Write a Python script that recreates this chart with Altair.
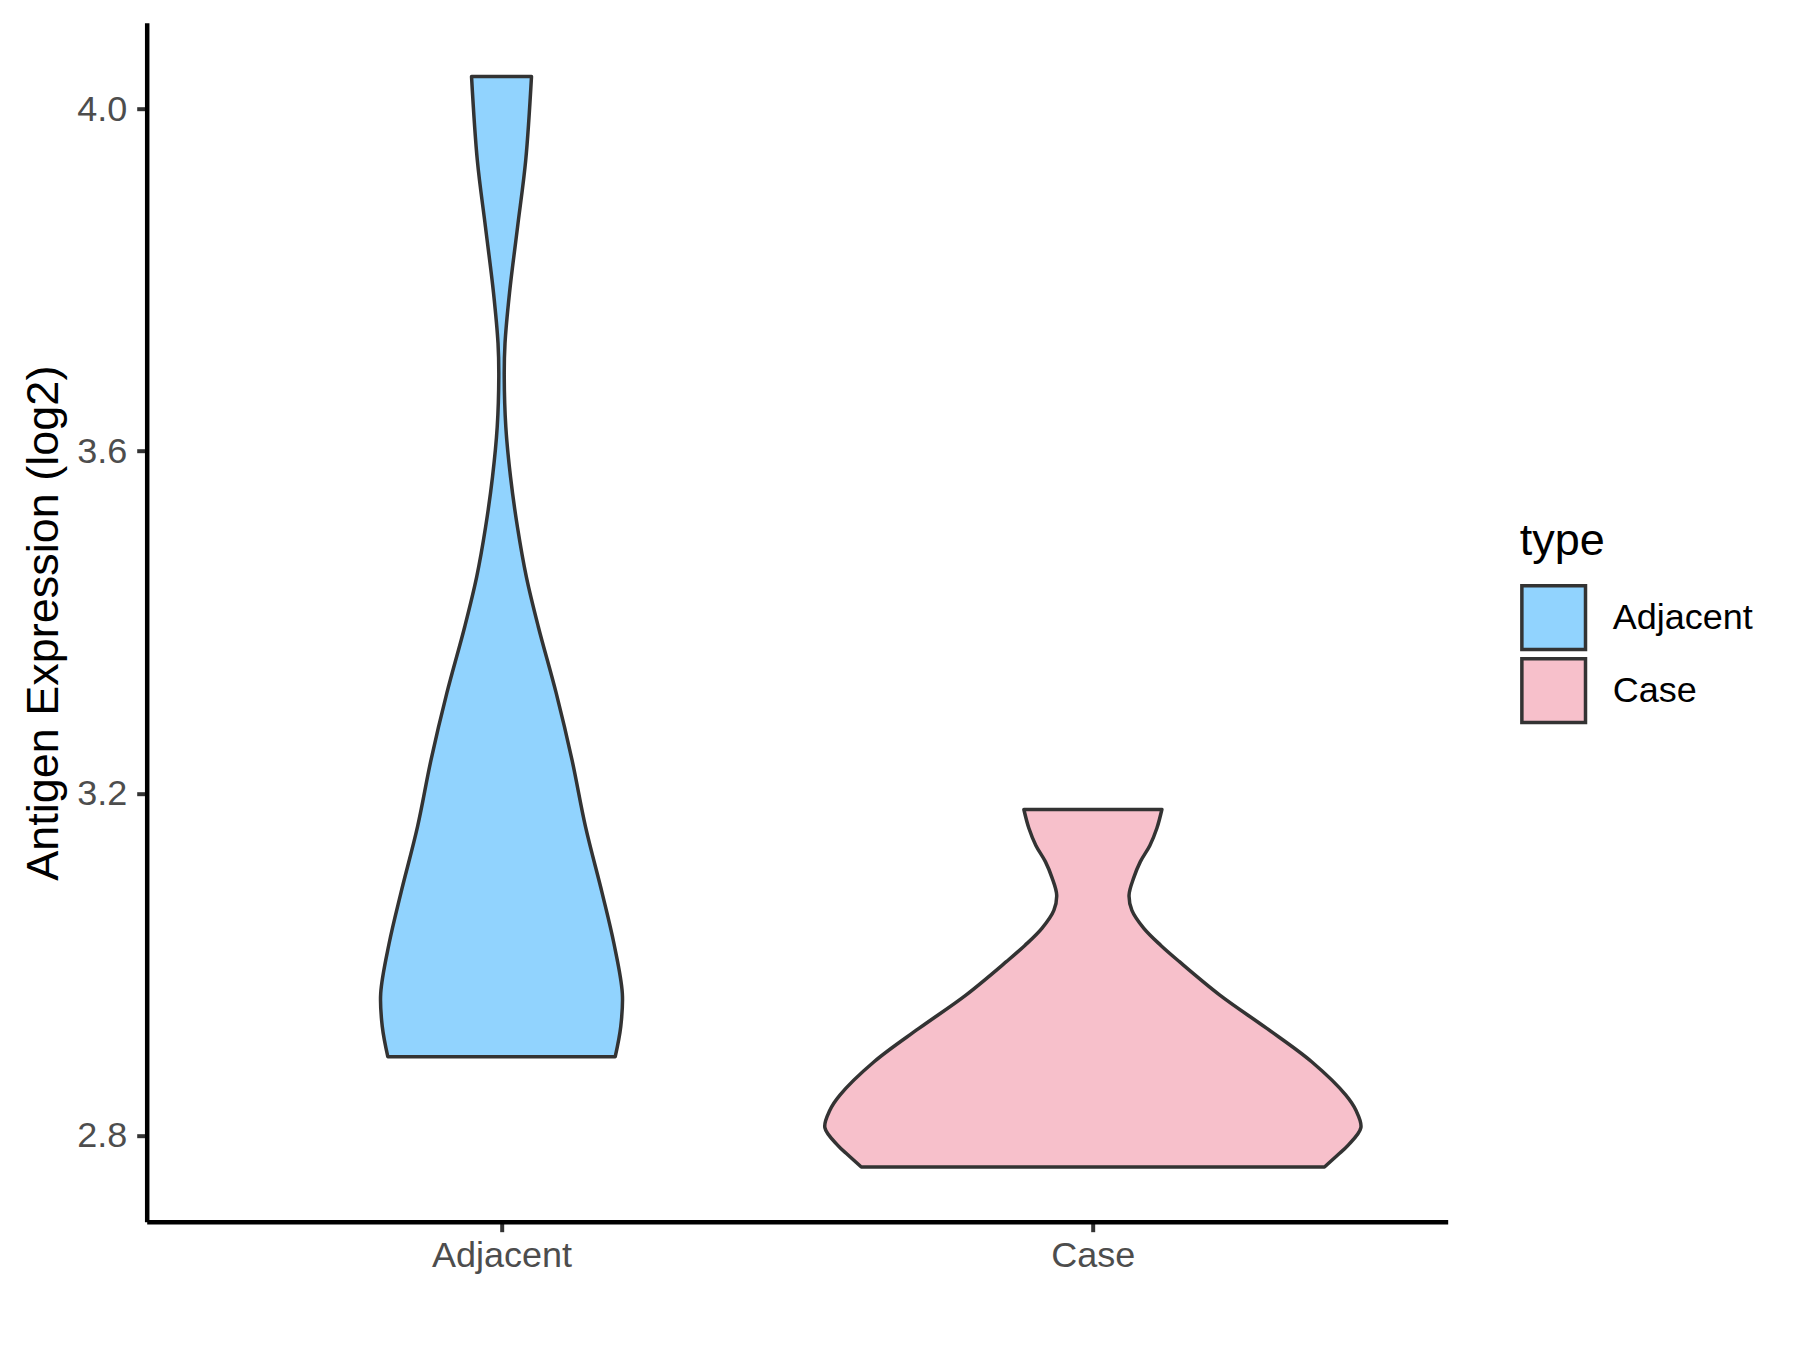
import altair as alt
import pandas as pd

# ---- data ----
categories = ["Adjacent", "Case"]
positions = [1, 2]
fill_colors = ["#91D3FE", "#F7C0CB"]

# violin outline: expression value (log2) and half-width (in category-step units)
adj_values = [2.892, 2.927, 2.966, 3.024, 3.083, 3.161, 3.239, 3.317, 3.395, 3.453,
              3.511, 3.570, 3.628, 3.687, 3.726, 3.785, 3.862, 3.940, 4.038]
adj_halfw = [0.1923, 0.2016, 0.2043, 0.1902, 0.1703, 0.1420, 0.1192, 0.0925, 0.0621, 0.0420,
             0.0270, 0.0152, 0.0073, 0.0046, 0.0059, 0.0135, 0.0271, 0.0409, 0.0507]

case_values = [2.763, 2.777, 2.788, 2.809, 2.829, 2.847, 2.886, 2.925, 2.964, 3.003,
               3.022, 3.042, 3.063, 3.081, 3.101, 3.120, 3.139, 3.159, 3.181]
case_halfw = [0.3916, 0.4140, 0.4310, 0.4532, 0.4450, 0.4278, 0.3700, 0.2942, 0.2147, 0.1464,
              0.1150, 0.0862, 0.0660, 0.0612, 0.0690, 0.0803, 0.0964, 0.1082, 0.1167]

y_ticks = [2.8, 3.2, 3.6, 4.0]

rows = []
for cat, pos, vals, hws in [("Adjacent", 1, adj_values, adj_halfw),
                            ("Case", 2, case_values, case_halfw)]:
    for v, h in zip(vals, hws):
        rows.append({"type": cat, "value": v, "lo": pos - h, "hi": pos + h})
df = pd.DataFrame(rows)

FONT = "Liberation Sans"

violin = alt.Chart(df).mark_area(
    orient="horizontal", interpolate="catmull-rom",
    stroke="#333333", strokeWidth=3.5, strokeJoin="round", opacity=1
).encode(
    y=alt.Y("value:Q",
            scale=alt.Scale(domain=[2.699, 4.101], nice=False, zero=False),
            axis=alt.Axis(values=y_ticks, format=".1f", grid=False,
                          title="Antigen Expression (log2)",
                          titleFontSize=45, titleFont=FONT, titleFontWeight="normal",
                          titleColor="black", titleAngle=-90,
                          titleBaseline="alphabetic", titleX=-89, titleY=600,
                          labelFontSize=36, labelFont=FONT, labelColor="#4D4D4D",
                          labelPadding=10, tickSize=10, tickWidth=4, tickColor="#333333",
                          domainColor="black", domainWidth=4.5)),
    x=alt.X("lo:Q",
            scale=alt.Scale(domain=[0.4, 2.6], nice=False, zero=False),
            axis=alt.Axis(values=positions, grid=False, title=None,
                          labelExpr="datum.value == 1 ? 'Adjacent' : 'Case'",
                          labelFontSize=36, labelFont=FONT, labelColor="#4D4D4D",
                          labelPadding=7, tickSize=10, tickWidth=4, tickColor="#333333",
                          domainColor="black", domainWidth=4.5)),
    x2="hi:Q",
    color=alt.Color("type:N",
                    scale=alt.Scale(domain=categories, range=fill_colors),
                    legend=alt.Legend(title="type", orient="none",
                                      legendX=1373, legendY=496,
                                      titleFontSize=45, titleFont=FONT,
                                      titleFontWeight="normal", titleColor="black",
                                      titlePadding=20,
                                      labelFontSize=36, labelFont=FONT, labelColor="black",
                                      labelOffset=25,
                                      symbolType="square", symbolSize=4050,
                                      symbolStrokeColor="#333333", symbolStrokeWidth=3.5,
                                      symbolOpacity=1, rowPadding=-5, padding=0)),
)

chart = violin.properties(
    width=1301, height=1199,
    autosize=alt.AutoSizeParams(type="none"),
    padding={"left": 138.7, "top": 14.7, "right": 344, "bottom": 120},
    background="white",
).configure_view(stroke=None)

chart.save("out.html", embed_options={"renderer": "svg", "actions": False})
